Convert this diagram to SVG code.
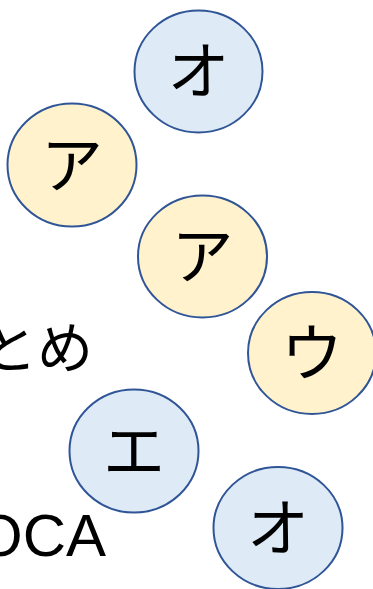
<svg xmlns="http://www.w3.org/2000/svg" width="373" height="589" viewBox="0 0 373 589">
<style>
.n ellipse{stroke:#2F5597;stroke-width:2}
.b ellipse{fill:#DEEBF7}
.y ellipse{fill:#FFF2CC}
.k{font-family:"Noto Sans CJK JP","Noto Sans",sans-serif;font-size:62px;fill:#000;text-anchor:middle;dominant-baseline:central}
.t{font-family:"Noto Sans CJK JP","Noto Sans",sans-serif;fill:#000;text-anchor:end}
</style>
<rect width="373" height="589" fill="#fff"/>
<g id="edges"></g>
<text class="t" x="93" y="368" font-size="56">とめ</text>
<text class="t" x="106" y="556" font-size="60" style="font-family:'Liberation Sans',sans-serif">OCA</text>
<g id="n1" class="n b"><ellipse cx="198.5" cy="71.5" rx="64" ry="61"/><text class="k" x="198.5" y="67">オ</text></g>
<g id="n2" class="n y"><ellipse cx="72" cy="165" rx="64.5" ry="61.5"/><text class="k" x="72" y="161">ア</text></g>
<g id="n3" class="n y"><ellipse cx="202.5" cy="256.5" rx="64.5" ry="61"/><text class="k" x="202.5" y="252">ア</text></g>
<g id="n4" class="n y"><ellipse cx="312" cy="353" rx="64" ry="61"/><text class="k" x="312" y="349">ウ</text></g>
<g id="n5" class="n b"><ellipse cx="134" cy="451" rx="64.5" ry="61.5"/><text class="k" x="134" y="447">エ</text></g>
<g id="n6" class="n b"><ellipse cx="278" cy="528" rx="64.5" ry="61"/><text class="k" x="278" y="524">オ</text></g>
</svg>
